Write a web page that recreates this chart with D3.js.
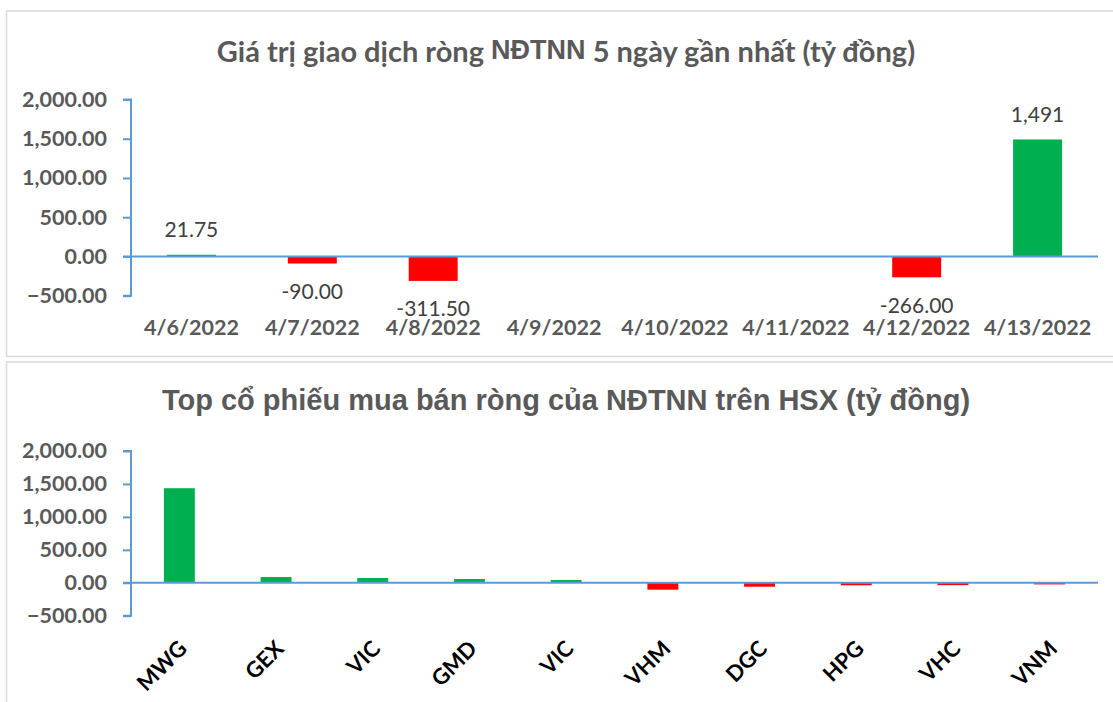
<!DOCTYPE html>
<html lang="vi">
<head>
<meta charset="UTF-8">
<title>NĐTNN</title>
<script src="https://cdn.jsdelivr.net/npm/d3@7"></script>
<style>
  body { margin: 0; background: #fff; }
  svg { display: block; }
</style>
</head>
<body>
<div id="chart"></div>
<script>
// chart 1 data: net foreign trading, last days
var dates = ["4/6/2022", "4/7/2022", "4/8/2022", "4/9/2022", "4/10/2022", "4/11/2022", "4/12/2022", "4/13/2022"];
var netValues = [21.75, -90.00, -311.50, 0, 0, 0, -266.00, 1491];
var netLabels = ["21.75", "-90.00", "-311.50", "", "", "", "-266.00", "1,491"];

// chart 2 data: top stocks on HSX
var stocks = ["MWG", "GEX", "VIC", "GMD", "VIC ", "VHM", "DGC", "HPG", "VHC", "VNM"];
var stockValues = [1435, 88, 72, 57, 42, -105, -60, -38, -36, -25];

var yTicks = [-500, 0, 500, 1000, 1500, 2000];

var width = 1113, height = 702;
var green = "#00B050", red = "#FF0000", axisBlue = "#5B9BD5", grey = "#595959";
var calibri = "Lato, 'Open Sans', sans-serif";
var arial = "'Liberation Sans', Arial, sans-serif";
var axisX = 131, plotRight = 1098;

var svg = d3.select("#chart").append("svg")
    .attr("width", width)
    .attr("height", height);

// frames
svg.append("rect").attr("x", 6.5).attr("y", 11).attr("width", 1120).attr("height", 345.5)
    .attr("fill", "none").attr("stroke", "#d9d9d9").attr("stroke-width", 1.5);
svg.append("rect").attr("x", 6.5).attr("y", 362).attr("width", 1120).attr("height", 400)
    .attr("fill", "none").attr("stroke", "#d9d9d9").attr("stroke-width", 1.5);

var fmt = d3.format(",.2f");

function drawAxisY(g, y) {
    var ax = g.append("g").attr("transform", "translate(" + axisX + ",0)")
        .call(d3.axisLeft(y).tickValues(yTicks).tickFormat(fmt).tickSize(8).tickPadding(16));
    ax.select(".domain").attr("stroke", axisBlue).attr("stroke-width", 2)
        .attr("d", "M-8," + y(2000) + "H0V" + y(-500) + "H-8");
    ax.selectAll(".tick line").attr("stroke", axisBlue).attr("stroke-width", 2);
    ax.selectAll(".tick text").attr("fill", grey).style("font-family", calibri)
        .style("font-weight", "bold").style("font-size", "21.5px");
}

// ---------- chart 1 ----------
var g1 = svg.append("g");
var x1 = d3.scaleBand().domain(dates).range([axisX, plotRight]).paddingInner(0.595).paddingOuter(0.2975);
var y1 = d3.scaleLinear().domain([-500, 2000]).range([295.7, 99.5]);

var t1 = g1.append("text").attr("x", 566).attr("y", 50).attr("text-anchor", "middle")
    .attr("dominant-baseline", "central").attr("fill", grey)
    .style("font-weight", "bold").style("font-size", "29px").style("font-family", calibri);
t1.append("tspan").text("Giá trị giao dịch ròng ");
t1.append("tspan").style("font-family", arial).style("font-size", "27px").text("NĐTNN");
t1.append("tspan").text(" 5 ngày gần nhất (tỷ đồng)");

drawAxisY(g1, y1);

g1.selectAll("rect.bar").data(netValues).enter().append("rect")
    .attr("class", "bar")
    .attr("x", function(d, i) { return x1(dates[i]); })
    .attr("width", x1.bandwidth())
    .attr("y", function(d) { return y1(Math.max(0, d)); })
    .attr("height", function(d) { return Math.abs(y1(d) - y1(0)); })
    .attr("fill", function(d) { return d >= 0 ? green : red; });

g1.append("line").attr("x1", axisX - 8).attr("x2", plotRight).attr("y1", y1(0)).attr("y2", y1(0))
    .attr("stroke", axisBlue).attr("stroke-width", 2);

g1.selectAll("text.lbl").data(netValues).enter().append("text")
    .attr("class", "lbl")
    .attr("x", function(d, i) { return x1(dates[i]) + x1.bandwidth() / 2; })
    .attr("y", function(d) { return d >= 0 ? y1(d) - 26 : y1(d) + 27; })
    .attr("text-anchor", "middle").attr("dominant-baseline", "central")
    .attr("fill", "#404040").style("font-family", calibri).style("font-size", "21px")
    .text(function(d, i) { return netLabels[i]; });

g1.selectAll("text.xl").data(dates).enter().append("text")
    .attr("class", "xl")
    .attr("x", function(d) { return x1(d) + x1.bandwidth() / 2; })
    .attr("y", 327)
    .attr("text-anchor", "middle").attr("dominant-baseline", "central")
    .attr("fill", grey).style("font-family", calibri).style("font-weight", "bold").style("font-size", "21.5px")
    .text(function(d) { return d; });

// ---------- chart 2 ----------
var g2 = svg.append("g");
var x2 = d3.scaleBand().domain(stocks).range([axisX, plotRight]).paddingInner(0.68).paddingOuter(0.34);
var y2 = d3.scaleLinear().domain([-500, 2000]).range([615.7, 451]);

g2.append("text").attr("x", 566).attr("y", 400).attr("text-anchor", "middle")
    .attr("dominant-baseline", "central").attr("fill", grey)
    .style("font-weight", "bold").style("font-size", "29px").style("font-family", arial)
    .text("Top cổ phiếu mua bán ròng của NĐTNN trên HSX (tỷ đồng)");

drawAxisY(g2, y2);

g2.selectAll("rect.bar").data(stockValues).enter().append("rect")
    .attr("class", "bar")
    .attr("x", function(d, i) { return x2(stocks[i]); })
    .attr("width", x2.bandwidth())
    .attr("y", function(d) { return y2(Math.max(0, d)); })
    .attr("height", function(d) { return Math.abs(y2(d) - y2(0)); })
    .attr("fill", function(d) { return d >= 0 ? green : red; });

g2.append("line").attr("x1", axisX - 8).attr("x2", plotRight).attr("y1", y2(0)).attr("y2", y2(0))
    .attr("stroke", axisBlue).attr("stroke-width", 2);

g2.selectAll("text.xl").data(stocks).enter().append("text")
    .attr("class", "xl")
    .attr("transform", function(d) {
        return "translate(" + (x2(d) + x2.bandwidth() / 2 + 3) + ",644) rotate(-45)";
    })
    .attr("text-anchor", "end").attr("dominant-baseline", "central")
    .attr("fill", "#000").style("font-family", calibri).style("font-weight", "bold").style("font-size", "22px")
    .text(function(d) { return d.trim(); });
</script>
</body>
</html>
